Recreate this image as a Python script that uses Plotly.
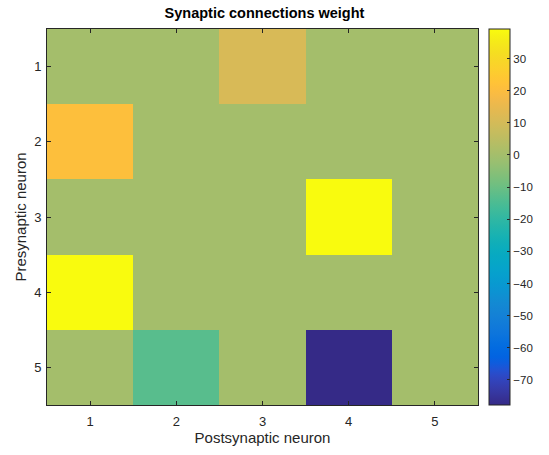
import plotly.graph_objects as go

post_neurons = [1, 2, 3, 4, 5]
pre_neurons = [1, 2, 3, 4, 5]
weights = [
    [0, 0, 11, 0, 0],
    [21, 0, 0, 0, 0],
    [0, 0, 0, 39.2, 0],
    [39.2, 0, 0, 0, 0],
    [0, -13, 0, -77.8, 0],
]
cbar_ticks = [-70, -60, -50, -40, -30, -20, -10, 0, 10, 20, 30]

parula = [
    (0.2081, 0.1663, 0.5292), (0.2116, 0.1898, 0.5777), (0.2123, 0.2138, 0.6270),
    (0.2081, 0.2386, 0.6771), (0.1959, 0.2645, 0.7279), (0.1707, 0.2919, 0.7792),
    (0.1253, 0.3242, 0.8303), (0.0591, 0.3598, 0.8683), (0.0117, 0.3875, 0.8820),
    (0.0060, 0.4086, 0.8828), (0.0165, 0.4266, 0.8786), (0.0329, 0.4430, 0.8720),
    (0.0498, 0.4586, 0.8641), (0.0629, 0.4737, 0.8554), (0.0723, 0.4887, 0.8467),
    (0.0779, 0.5040, 0.8384), (0.0793, 0.5200, 0.8312), (0.0749, 0.5375, 0.8263),
    (0.0641, 0.5570, 0.8240), (0.0488, 0.5772, 0.8228), (0.0343, 0.5966, 0.8199),
    (0.0265, 0.6137, 0.8135), (0.0239, 0.6287, 0.8038), (0.0231, 0.6418, 0.7913),
    (0.0228, 0.6535, 0.7768), (0.0267, 0.6642, 0.7607), (0.0384, 0.6743, 0.7436),
    (0.0590, 0.6838, 0.7254), (0.0843, 0.6928, 0.7062), (0.1133, 0.7015, 0.6859),
    (0.1453, 0.7098, 0.6646), (0.1801, 0.7177, 0.6424), (0.2178, 0.7250, 0.6193),
    (0.2586, 0.7317, 0.5954), (0.3022, 0.7376, 0.5712), (0.3482, 0.7424, 0.5473),
    (0.3953, 0.7459, 0.5244), (0.4420, 0.7481, 0.5033), (0.4871, 0.7491, 0.4840),
    (0.5300, 0.7491, 0.4661), (0.5709, 0.7485, 0.4494), (0.6099, 0.7473, 0.4337),
    (0.6473, 0.7456, 0.4188), (0.6834, 0.7435, 0.4044), (0.7184, 0.7411, 0.3905),
    (0.7525, 0.7384, 0.3768), (0.7858, 0.7356, 0.3633), (0.8185, 0.7327, 0.3498),
    (0.8507, 0.7299, 0.3360), (0.8824, 0.7274, 0.3217), (0.9139, 0.7258, 0.3063),
    (0.9450, 0.7261, 0.2886), (0.9739, 0.7314, 0.2666), (0.9938, 0.7455, 0.2403),
    (0.9990, 0.7653, 0.2164), (0.9955, 0.7861, 0.1967), (0.9880, 0.8066, 0.1794),
    (0.9789, 0.8271, 0.1633), (0.9697, 0.8481, 0.1475), (0.9626, 0.8705, 0.1309),
    (0.9589, 0.8949, 0.1132), (0.9598, 0.9218, 0.0948), (0.9661, 0.9514, 0.0755),
    (0.9763, 0.9831, 0.0538),
]
n = len(parula)
colorscale = [
    [i / (n - 1), "rgb(%d,%d,%d)" % tuple(round(c * 255) for c in rgb)]
    for i, rgb in enumerate(parula)
]

font = "Liberation Sans, Arial, Helvetica, sans-serif"
axcol = "#262626"

L, R, T, B = 47, 482, 29, 405
W, H = 549, 455

fig = go.Figure(
    go.Heatmap(
        x=post_neurons,
        y=pre_neurons,
        z=weights,
        colorscale=colorscale,
        zmin=-77.8,
        zmax=39.2,
        colorbar=dict(
            x=(493 - L) / (R - L),
            xanchor="left",
            y=0.5,
            yanchor="middle",
            len=1,
            lenmode="fraction",
            thickness=21,
            outlinewidth=1,
            outlinecolor=axcol,
            tickvals=cbar_ticks,
            tickprefix=" ",
            ticks="inside",
            ticklen=3,
            tickcolor=axcol,
            tickfont=dict(family=font, size=11.5, color=axcol),
            xpad=0,
            ypad=0,
        ),
    )
)

fig.update_layout(
    width=W,
    height=H,
    margin=dict(l=L, r=W - R, t=T, b=H - B),
    paper_bgcolor="white",
    plot_bgcolor="white",
    font=dict(family=font, color=axcol),
    title=dict(
        text="<b>Synaptic connections weight</b>",
        x=(L + R) / 2 / W,
        xanchor="center",
        y=1 - 13 / H,
        yanchor="middle",
        font=dict(family=font, size=14.5, color="black"),
    ),
    xaxis=dict(
        title=dict(text="Postsynaptic neuron", font=dict(size=15, color=axcol), standoff=2),
        tickvals=post_neurons,
        range=[0.5, 5.5],
        ticks="inside",
        ticklen=4,
        tickcolor=axcol,
        ticklabelstandoff=4,
        showline=True,
        linecolor=axcol,
        linewidth=1,
        mirror="allticks",
        showgrid=False,
        zeroline=False,
        tickfont=dict(size=13, color=axcol),
    ),
    yaxis=dict(
        title=dict(text="Presynaptic neuron", font=dict(size=15, color=axcol), standoff=3),
        tickvals=pre_neurons,
        range=[5.5, 0.5],
        ticks="inside",
        ticklen=4,
        tickcolor=axcol,
        ticklabelstandoff=2,
        showline=True,
        linecolor=axcol,
        linewidth=1,
        mirror="allticks",
        showgrid=False,
        zeroline=False,
        tickfont=dict(size=13, color=axcol),
    ),
)

fig.write_html("out.html")
